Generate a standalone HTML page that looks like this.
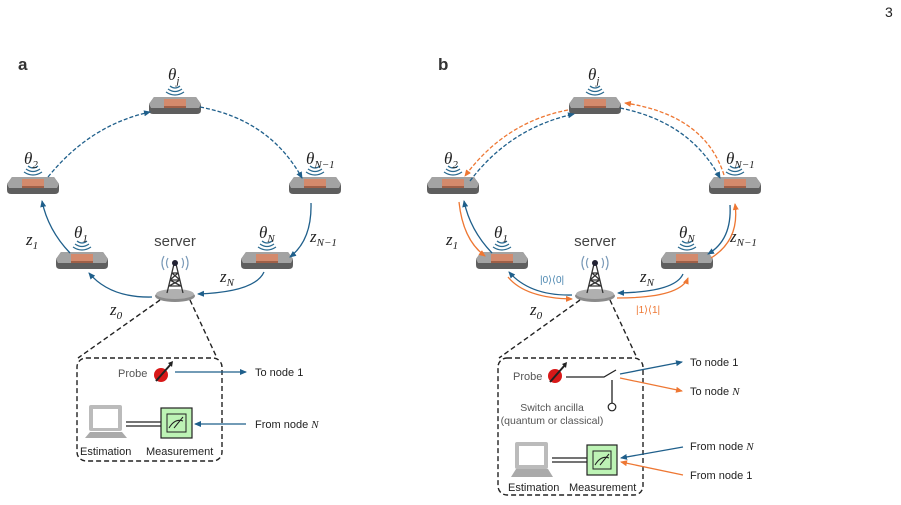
<!DOCTYPE html>
<html><head><meta charset="utf-8"><style>
html,body{margin:0;padding:0;background:#fff;}
svg{display:block;}
text{font-family:"Liberation Sans",sans-serif;}
.m{font-family:"Liberation Serif",serif;font-style:italic;font-size:17px;fill:#222;}
.s{font-size:11px;fill:#222;}
</style></head><body>
<svg width="901" height="505" viewBox="0 0 901 505" xmlns="http://www.w3.org/2000/svg">
<defs>
<marker id="ab" markerWidth="8" markerHeight="8" refX="6" refY="3" orient="auto" markerUnits="userSpaceOnUse"><path d="M0,0 L7,3 L0,6 Z" fill="#1f5f8b"/></marker>
<marker id="ao" markerWidth="8" markerHeight="8" refX="6" refY="3" orient="auto" markerUnits="userSpaceOnUse"><path d="M0,0 L7,3 L0,6 Z" fill="#ee7733"/></marker>
<g id="chip">
<path d="M-26,-1 L-21,-8 L21,-8 L26,-1 L26,5 Q26,9 22,9 L-22,9 Q-26,9 -26,5Z" fill="#5e5e5e"/>
<path d="M-26,-1 L-21,-8 L21,-8 L26,-1 L24,3 L-24,3Z" fill="#a3a3a3"/>
<path d="M-11,-6 L11,-6 L11,1 L-11,1Z" fill="#d48a6c"/>
<path d="M-11,1 L11,1 L11,3 L-11,3Z" fill="#a06048"/>
<path d="M-5,-19 Q0,-15 5,-19 M-7,-16 Q0,-11 7,-16 M-9,-13 Q0,-7 9,-13" stroke="#2a6a90" stroke-width="1.2" fill="none"/>
</g>
<g id="tower">
<ellipse cx="0" cy="0" rx="20" ry="6" fill="#8a8a8a"/>
<ellipse cx="0" cy="-2" rx="19" ry="5" fill="#b0b0b0"/>
<path d="M-8,-3 L-1,-32 L1,-32 L8,-3 M-6,-10 L6,-10 M-5,-16 L5,-16 M-3,-23 L3,-23 M-6,-10 L5,-16 M6,-10 L-5,-16 M-5,-16 L3,-23 M5,-16 L-3,-23" stroke="#333" stroke-width="1.3" fill="none"/>
<circle cx="0" cy="-33" r="3" fill="#223"/>
<path d="M-7,-38 Q-10,-33 -7,-28 M7,-38 Q10,-33 7,-28 M-11,-40 Q-15,-33 -11,-26 M11,-40 Q15,-33 11,-26" stroke="#7a9ab8" stroke-width="1.2" fill="none"/>
</g>
<g id="base">
<use href="#chip" x="175" y="105"/>
<use href="#chip" x="33" y="185"/>
<use href="#chip" x="315" y="185"/>
<use href="#chip" x="82" y="260"/>
<use href="#chip" x="267" y="260"/>
<use href="#tower" x="175" y="296"/>
<text x="175" y="246" text-anchor="middle" font-size="15" fill="#444">server</text>
<text class="m" x="168" y="80">θ<tspan font-size="11" dy="4">j</tspan></text>
<text class="m" x="24" y="164">θ<tspan font-size="11" dy="4">2</tspan></text>
<text class="m" x="306" y="164">θ<tspan font-size="11" dy="4">N−1</tspan></text>
<text class="m" x="74" y="238">θ<tspan font-size="11" dy="4">1</tspan></text>
<text class="m" x="259" y="238">θ<tspan font-size="11" dy="4">N</tspan></text>
<text class="m" x="26" y="245">z<tspan font-size="11" dy="4">1</tspan></text>
<text class="m" x="310" y="242">z<tspan font-size="11" dy="4">N−1</tspan></text>
<text class="m" x="220" y="282">z<tspan font-size="11" dy="4">N</tspan></text>
<text class="m" x="110" y="315">z<tspan font-size="11" dy="4">0</tspan></text>
</g>
</defs>

<text x="885" y="17" font-family="Liberation Serif" font-size="14" fill="#222">3</text>

<!-- Panel a -->
<text x="18" y="70" font-size="17" font-weight="bold" fill="#333">a</text>
<use href="#base"/>
<g fill="none" stroke="#1f5f8b" stroke-width="1.3">
<path d="M48,177 Q90,125 150,112" stroke-dasharray="4,2" marker-end="url(#ab)"/>
<path d="M200,107 Q270,120 302,178" stroke-dasharray="4,2" marker-end="url(#ab)"/>
<path d="M70,253 Q48,230 42,201" marker-end="url(#ab)"/>
<path d="M311,203 Q312,240 290,257" marker-end="url(#ab)"/>
<path d="M264,272 Q255,292 198,294" marker-end="url(#ab)"/>
<path d="M152,297 Q110,298 89,273" marker-end="url(#ab)"/>
</g>
<g stroke="#222" stroke-width="1.4" stroke-dasharray="5,3" fill="none">
<path d="M160,300 L78,358"/><path d="M190,300 L217,358"/>
<rect x="77" y="358" width="145" height="103" rx="9"/>
</g>
<text x="118" y="377" font-size="11" fill="#555">Probe</text>
<circle cx="161" cy="375" r="7" fill="#d81818"/>
<path d="M156,381 L171,364" stroke="#222" stroke-width="2"/><path d="M168,363 L173,361 L172,367Z" fill="#222"/>
<path d="M175,372 L246,372" stroke="#1f5f8b" stroke-width="1.3" marker-end="url(#ab)"/>
<text x="255" y="376" class="s">To node 1</text>
<rect x="89" y="405" width="33" height="26" rx="2" fill="#bbb"/><rect x="93" y="409" width="25" height="19" fill="#fff"/>
<path d="M85,438 L90,432 L122,432 L127,438Z" fill="#aaa"/>
<path d="M126,422 L161,422 M126,426 L161,426" stroke="#222" stroke-width="1.3"/>
<rect x="161" y="408" width="31" height="30" fill="#bdf3b5" stroke="#222" stroke-width="1.2"/>
<rect x="167" y="414" width="19" height="18" fill="none" stroke="#222"/>
<path d="M169,428 Q175,418 183,421 M174,428 L183,417" stroke="#222" fill="none"/>
<path d="M246,424 L195,424" stroke="#1f5f8b" stroke-width="1.3" marker-end="url(#ab)"/>
<text x="255" y="428" class="s">From node <tspan font-family="Liberation Serif" font-style="italic">N</tspan></text>
<text x="80" y="455" class="s">Estimation</text>
<text x="146" y="455" class="s">Measurement</text>

<!-- Panel b -->
<text x="438" y="70" font-size="17" font-weight="bold" fill="#333">b</text>
<use href="#base" x="420"/>
<g fill="none" stroke-width="1.3">
<path d="M470,181 Q510,128 574,114" stroke="#1f5f8b" stroke-dasharray="4,2" marker-end="url(#ab)"/>
<path d="M568,110 Q505,122 465,176" stroke="#ee7733" stroke-dasharray="4,2" marker-end="url(#ao)"/>
<path d="M620,108 Q690,122 720,178" stroke="#1f5f8b" stroke-dasharray="4,2" marker-end="url(#ab)"/>
<path d="M724,175 Q705,115 625,103" stroke="#ee7733" stroke-dasharray="4,2" marker-end="url(#ao)"/>
<path d="M492,253 Q470,230 464,201" stroke="#1f5f8b" marker-end="url(#ab)"/>
<path d="M459,202 Q463,240 485,256" stroke="#ee7733" marker-end="url(#ao)"/>
<path d="M730,205 Q732,240 708,254" stroke="#1f5f8b" marker-end="url(#ab)"/>
<path d="M711,258 Q740,240 735,204" stroke="#ee7733" marker-end="url(#ao)"/>
<path d="M683,274 Q675,292 618,293" stroke="#1f5f8b" marker-end="url(#ab)"/>
<path d="M617,298 Q680,298 688,278" stroke="#ee7733" marker-end="url(#ao)"/>
<path d="M572,295 Q530,296 509,272" stroke="#1f5f8b" marker-end="url(#ab)"/>
<path d="M508,277 Q525,298 572,299" stroke="#ee7733" marker-end="url(#ao)"/>
</g>
<text x="540" y="283" font-size="10" fill="#4a86b0">|0⟩⟨0|</text>
<text x="636" y="313" font-size="10" fill="#ee7733">|1⟩⟨1|</text>
<g stroke="#222" stroke-width="1.4" stroke-dasharray="5,3" fill="none">
<path d="M580,300 L499,358"/><path d="M610,300 L637,358"/>
<rect x="498" y="358" width="145" height="137" rx="9"/>
</g>
<text x="513" y="380" font-size="11" fill="#555">Probe</text>
<circle cx="555" cy="376" r="7" fill="#d81818"/>
<path d="M550,382 L565,365" stroke="#222" stroke-width="2"/><path d="M562,364 L567,362 L566,368Z" fill="#222"/>
<path d="M566,377 L604,377 L616,370 M612,380 L612,403" stroke="#222" stroke-width="1.3" fill="none"/>
<circle cx="612" cy="407" r="3.8" fill="#fff" stroke="#222" stroke-width="1.2"/>
<path d="M620,374 L682,362" stroke="#1f5f8b" stroke-width="1.3" marker-end="url(#ab)"/>
<path d="M620,378 L682,391" stroke="#ee7733" stroke-width="1.3" marker-end="url(#ao)"/>
<text x="690" y="366" class="s">To node 1</text>
<text x="690" y="395" class="s">To node <tspan font-family="Liberation Serif" font-style="italic">N</tspan></text>
<text x="552" y="411" text-anchor="middle" font-size="10.5" fill="#555">Switch ancilla</text>
<text x="552" y="424" text-anchor="middle" font-size="10.5" fill="#555">(quantum or classical)</text>
<rect x="515" y="442" width="33" height="27" rx="2" fill="#bbb"/><rect x="519" y="446" width="25" height="19" fill="#fff"/>
<path d="M511,477 L516,469 L548,469 L553,477Z" fill="#aaa"/>
<path d="M552,458 L587,458 M552,462 L587,462" stroke="#222" stroke-width="1.3"/>
<rect x="587" y="445" width="30" height="30" fill="#bdf3b5" stroke="#222" stroke-width="1.2"/>
<rect x="593" y="451" width="18" height="18" fill="none" stroke="#222"/>
<path d="M595,465 Q601,455 609,458 M600,465 L609,454" stroke="#222" fill="none"/>
<path d="M683,447 L621,458" stroke="#1f5f8b" stroke-width="1.3" marker-end="url(#ab)"/>
<path d="M683,475 L621,462" stroke="#ee7733" stroke-width="1.3" marker-end="url(#ao)"/>
<text x="690" y="450" class="s">From node <tspan font-family="Liberation Serif" font-style="italic">N</tspan></text>
<text x="690" y="479" class="s">From node 1</text>
<text x="508" y="491" class="s">Estimation</text>
<text x="569" y="491" class="s">Measurement</text>
</svg>
</body></html>
